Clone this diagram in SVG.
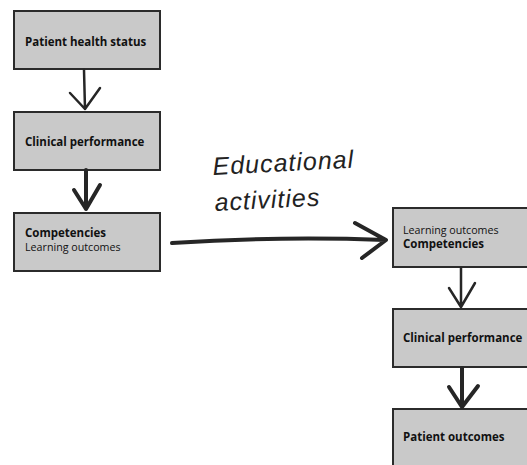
<svg xmlns="http://www.w3.org/2000/svg" width="527" height="465" viewBox="0 0 527 465">
<style>
.box{fill:#c9c9c9;stroke:#2b2b2b;stroke-width:2}
.b{font-family:"Open Sans","Noto Sans",sans-serif;font-weight:bold;font-size:11.5px;fill:#111}
.r{font-family:"Open Sans","Noto Sans",sans-serif;font-size:10.7px;fill:#111}
.hand{font-family:"Liberation Sans",sans-serif;font-style:italic;font-size:25px;fill:#222;letter-spacing:1px}
.conn path{fill:none;stroke:#262626;stroke-linecap:round;stroke-linejoin:round}
</style>
<rect width="527" height="465" fill="#fff"/>
<g id="n1"><rect class="box" x="14" y="11" width="146" height="58"/><text class="b" x="25" y="46">Patient health status</text></g>
<g id="n2"><rect class="box" x="14" y="112" width="146" height="58"/><text class="b" x="25" y="146">Clinical performance</text></g>
<g id="n3"><rect class="box" x="14" y="213" width="146" height="58"/><text class="b" x="25" y="237">Competencies</text><text class="r" x="25" y="251">Learning outcomes</text></g>
<g id="n4"><rect class="box" x="393" y="208" width="140" height="59"/><text class="r" x="403" y="234">Learning outcomes</text><text class="b" x="403" y="248">Competencies</text></g>
<g id="n5"><rect class="box" x="393" y="309" width="140" height="58"/><text class="b" x="403" y="342">Clinical performance</text></g>
<g id="n6"><rect class="box" x="393" y="409" width="140" height="60"/><text class="b" x="403" y="441">Patient outcomes</text></g>
<g id="label"><text class="hand" transform="rotate(-3 213 175)" x="213" y="175">Educational</text><text class="hand" transform="rotate(-3 215 211)" x="215" y="211">activities</text></g>
<g class="conn" id="connectors">
<path d="M84 70 L85 109 M70 93 L85 109 L100 88" stroke-width="2.5"/>
<path d="M86 170 L86 209 M74 190 L86 209 L100 185" stroke-width="4"/>
<path d="M172 243 Q280 236 385 240 M355 223 L386 240 L362 258" stroke-width="4"/>
<path d="M461 268 L461 307 M449 288 L461 307 L475 283" stroke-width="2.5"/>
<path d="M462 368 L462 407 M449 387 L462 407 L478 386" stroke-width="4"/>
</g>
</svg>
